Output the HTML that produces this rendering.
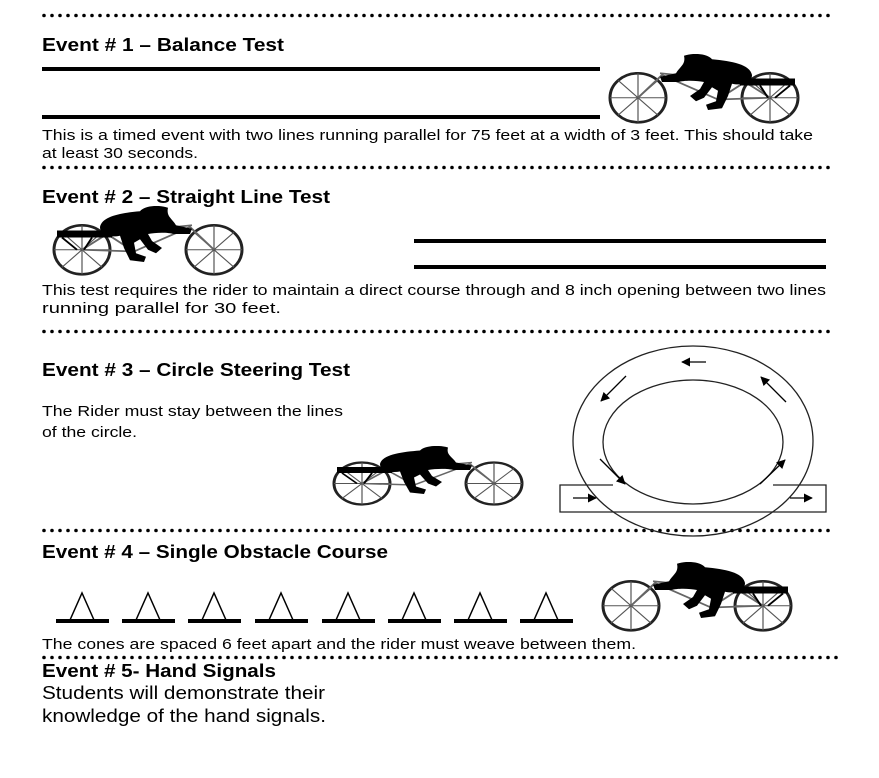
<!DOCTYPE html>
<html><head><style>html,body{margin:0;padding:0;background:#fff;}svg{display:block}</style></head>
<body>
<svg width="879" height="778" viewBox="0 0 879 778" xmlns="http://www.w3.org/2000/svg" font-family="Liberation Sans, Arial, sans-serif">
<defs>
<symbol id="bike" viewBox="0 0 210 80" preserveAspectRatio="none">
  <g fill="none" stroke="#555" stroke-width="1.2">
    <circle cx="38" cy="50" r="28" stroke="#222" stroke-width="3"/>
    <circle cx="170" cy="50" r="28" stroke="#222" stroke-width="3"/>
    <path d="M38 22V78M10 50H66M18 30L58 70M58 30L18 70M142 50H198M170 22V78M150 30L190 70M190 30L150 70"/>
    <path d="M38 50L62 24L118 52L145 32L170 50M118 52L170 50M60 22L145 32" stroke="#666" stroke-width="2"/>
  </g>
  <path d="M140 28H195V36H140Z" fill="#000"/>
  <path d="M160 36L168 50M190 36L175 50" stroke="#000" stroke-width="2"/>
  <path d="M84 2C94 -2 108 0 112 6C132 8 150 12 152 24C152 34 140 36 132 34L128 48L122 62L108 64L106 58L116 54L118 42L112 38L104 50L96 54L90 48L100 40L104 32C96 30 84 30 78 32L62 32L60 26L76 22C80 14 86 12 84 2Z" fill="#000"/>
</symbol>
<marker id="ar" viewBox="0 0 10 10" refX="9" refY="5" markerWidth="7" markerHeight="7" orient="auto"><path d="M0 0L10 5L0 10Z" fill="#000"/></marker>
</defs>

<g stroke="#000" stroke-width="3.6" stroke-linecap="round" stroke-dasharray="0 8">
<line x1="44" y1="15.5" x2="832" y2="15.5"/>
<line x1="44" y1="167.5" x2="832" y2="167.5"/>
<line x1="44" y1="331.5" x2="832" y2="331.5"/>
<line x1="44" y1="530.5" x2="832" y2="530.5"/>
<line x1="44" y1="657.5" x2="842" y2="657.5"/>
</g>

<g font-weight="bold" font-size="18" fill="#000">
<text x="42" y="51" textLength="242" lengthAdjust="spacingAndGlyphs">Event # 1 – Balance Test</text>
<text x="42" y="203" textLength="288" lengthAdjust="spacingAndGlyphs">Event # 2 – Straight Line Test</text>
<text x="42" y="376" textLength="308" lengthAdjust="spacingAndGlyphs">Event # 3 – Circle Steering Test</text>
<text x="42" y="558" textLength="346" lengthAdjust="spacingAndGlyphs">Event # 4 – Single Obstacle Course</text>
<text x="42" y="677" textLength="234" lengthAdjust="spacingAndGlyphs">Event # 5- Hand Signals</text>
</g>
<g font-size="15" fill="#000">
<text x="42" y="140" textLength="771" lengthAdjust="spacingAndGlyphs">This is a timed event with two lines running parallel for 75 feet at a width of 3 feet. This should take</text>
<text x="42" y="158" textLength="156" lengthAdjust="spacingAndGlyphs">at least 30 seconds.</text>
<text x="42" y="295" textLength="784" lengthAdjust="spacingAndGlyphs">This test requires the rider to maintain a direct course through and 8 inch opening between two lines</text>
<text x="42" y="313" textLength="239" lengthAdjust="spacingAndGlyphs">running parallel for 30 feet.</text>
<text x="42" y="416" textLength="301" lengthAdjust="spacingAndGlyphs">The Rider must stay between the lines</text>
<text x="42" y="437" textLength="95" lengthAdjust="spacingAndGlyphs">of the circle.</text>
<text x="42" y="649" textLength="594" lengthAdjust="spacingAndGlyphs">The cones are spaced 6 feet apart and the rider must weave between them.</text>
</g>
<g font-size="18.5" fill="#000">
<text x="42" y="699" textLength="283" lengthAdjust="spacingAndGlyphs">Students will demonstrate their</text>
<text x="42" y="722" textLength="284" lengthAdjust="spacingAndGlyphs">knowledge of the hand signals.</text>
</g>

<g stroke="#000" stroke-width="4">
<line x1="42" y1="69" x2="600" y2="69"/>
<line x1="42" y1="117" x2="600" y2="117"/>
<line x1="414" y1="241" x2="826" y2="241"/>
<line x1="414" y1="267" x2="826" y2="267"/>
</g>

<use href="#bike" x="600" y="54" width="210" height="70"/>
<use href="#bike" transform="translate(252,206) scale(-1,1)" width="210" height="70"/>
<use href="#bike" transform="translate(532,446) scale(-1,1)" width="210" height="60"/>
<use href="#bike" x="593" y="562" width="210" height="70"/>

<g fill="none" stroke="#222" stroke-width="1.3">
<path d="M613 485H560V512H826V485H773"/>
<ellipse cx="693" cy="441" rx="120" ry="95"/>
<ellipse cx="693" cy="442" rx="90" ry="62"/>
</g>
<g stroke="#000" stroke-width="1.3" marker-end="url(#ar)">
<line x1="706" y1="362" x2="682" y2="362"/>
<line x1="626" y1="376" x2="601" y2="401"/>
<line x1="786" y1="402" x2="761" y2="377"/>
<line x1="600" y1="459" x2="625" y2="484"/>
<line x1="760" y1="484" x2="785" y2="460"/>
<line x1="573" y1="498" x2="596" y2="498"/>
<line x1="790" y1="498" x2="812" y2="498"/>
</g>

<g stroke="#000" fill="none">
<g stroke-width="4">
<line x1="56" y1="621" x2="109" y2="621"/><line x1="122" y1="621" x2="175" y2="621"/>
<line x1="188" y1="621" x2="241" y2="621"/><line x1="255" y1="621" x2="308" y2="621"/>
<line x1="322" y1="621" x2="375" y2="621"/><line x1="388" y1="621" x2="441" y2="621"/>
<line x1="454" y1="621" x2="507" y2="621"/><line x1="520" y1="621" x2="573" y2="621"/>
</g>
<g stroke-width="1.5">
<path d="M70 620L82 593L94 620"/><path d="M136 620L148 593L160 620"/>
<path d="M202 620L214 593L226 620"/><path d="M269 620L281 593L293 620"/>
<path d="M336 620L348 593L360 620"/><path d="M402 620L414 593L426 620"/>
<path d="M468 620L480 593L492 620"/><path d="M534 620L546 593L558 620"/>
</g>
</g>
</svg>
</body></html>
